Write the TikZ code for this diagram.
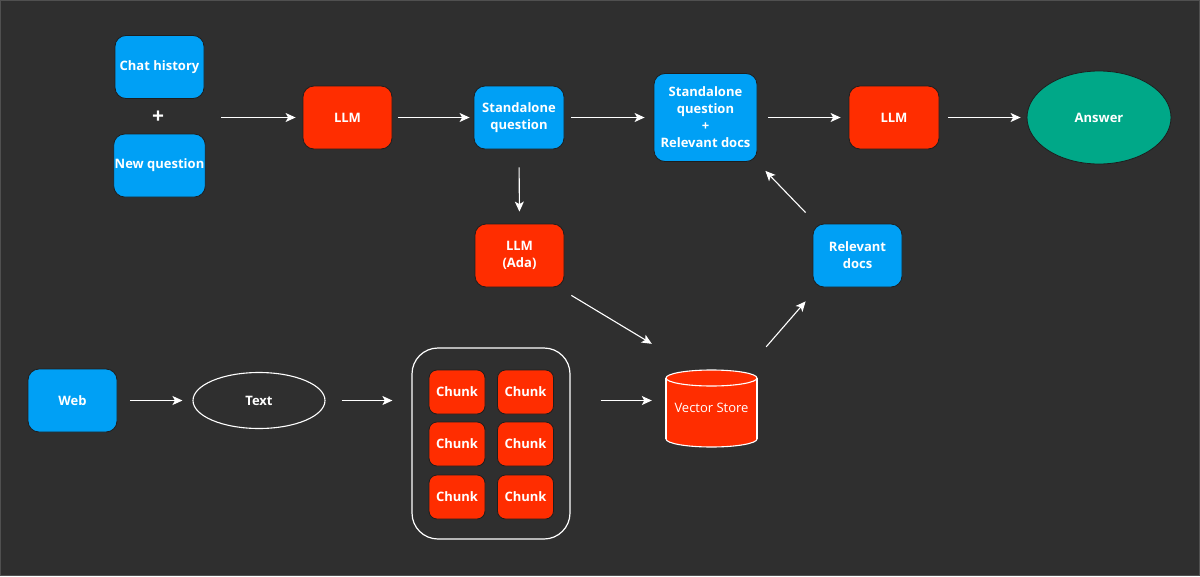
\documentclass[tikz,border=0pt]{standalone}
\usepackage{fontspec}
\setmainfont{Open Sans}
\usetikzlibrary{arrows.meta,calc,shapes.geometric}
\definecolor{bg}{RGB}{47,47,47}
\definecolor{bluebox}{RGB}{0,160,245}
\definecolor{redbox}{RGB}{255,45,0}
\definecolor{tealbox}{RGB}{0,168,136}
\definecolor{edge}{RGB}{30,30,30}
\tikzset{
  box/.style={draw=edge, line width=0.8pt, rounded corners=11pt, minimum width=89pt, minimum height=63pt,
    text=white, font=\fontsize{13}{17}\selectfont\bfseries, align=center, inner sep=1pt},
  bluenode/.style={box, fill=bluebox},
  rednode/.style={box, fill=redbox},
  chunkbox/.style={box, fill=redbox, minimum width=56pt, minimum height=44pt, rounded corners=8pt},
  arr/.style={draw=white, line width=1.1pt, -{Stealth[length=10pt,width=9pt,inset=2.5pt]}},
}
\begin{document}
\begin{tikzpicture}[x=1pt,y=-1pt]
\fill[bg] (0,0) rectangle (1200,576);
\draw[color={rgb,255:red,80;green,80;blue,80}, line width=1pt] (0.5,0.5) rectangle (1199.5,575.5);
\useasboundingbox (0,0) rectangle (1200,576);

% top row
\node[bluenode] (ch) at (159.5,67) {Chat history};
\node[text=white, font=\fontsize{21}{21}\selectfont\bfseries, inner sep=0pt] (plus) at (158,117.5) {+};
\node[bluenode] (nq) at (159.5,165.5) {New question};
\node[rednode] (llm1) at (347.5,117.5) {LLM};
\node[bluenode, minimum width=90pt] (sq) at (519,117.5) {Standalone\\question};
\node[bluenode, minimum width=103pt, minimum height=88pt] (sr) at (705.5,117.5) {Standalone\\question\\+\\Relevant docs};
\node[rednode, minimum width=90pt] (llm2) at (894,117.5) {LLM};
\node[draw=edge, line width=0.8pt, fill=tealbox, ellipse, minimum width=144pt, minimum height=93pt, inner sep=0pt,
  text=white, font=\fontsize{13}{17}\selectfont\bfseries] (ans) at (1099,117.5) {Answer};

% middle
\node[rednode] (ada) at (519.5,255.5) {LLM\\(Ada)};
\node[bluenode] (rd) at (857.5,255.5) {Relevant\\docs};

% bottom row
\node[bluenode] (web) at (72.5,400.5) {Web};
\node[draw=white, line width=1.1pt, fill=bg, ellipse, minimum width=132pt, minimum height=56pt, inner sep=0pt,
  text=white, font=\fontsize{13}{17}\selectfont\bfseries] (txt) at (259,400.5) {Text};
\node[draw=white, line width=1.2pt, rounded corners=26pt, minimum width=158pt, minimum height=191pt] (ct) at (491,443.5) {};
\node[chunkbox] (c1) at (457,392) {Chunk};
\node[chunkbox] (c2) at (525.5,392) {Chunk};
\node[chunkbox] (c3) at (457,444) {Chunk};
\node[chunkbox] (c4) at (525.5,444) {Chunk};
\node[chunkbox] (c5) at (457,497) {Chunk};
\node[chunkbox] (c6) at (525.5,497) {Chunk};

% vector store cylinder
\fill[redbox, draw=white, line width=1.1pt] (711.5,439) ellipse [x radius=45.5, y radius=8];
\fill[redbox] (666,378) rectangle (757,439);
\draw[white, line width=1.1pt] (666,378) -- (666,439) (757,378) -- (757,439);
\fill[redbox, draw=white, line width=1.1pt] (711.5,378) ellipse [x radius=45.5, y radius=8];
\node[minimum width=91pt, minimum height=77pt, inner sep=0pt, text=white, font=\fontsize{13}{17}\selectfont] (vs) at (711.5,407.5) {Vector Store};

% connectors
\draw[arr, shorten <=17pt, shorten >=7pt] (ch.east |- plus) -- (llm1.west);
\draw[arr, shorten <=6pt, shorten >=4pt] (llm1) -- (sq);
\draw[arr, shorten <=7pt, shorten >=9pt] (sq.east) -- (sr.west |- sq.east);
\draw[arr, shorten <=11pt, shorten >=8pt] (sr.east |- llm2.west) -- (llm2.west);
\draw[arr, shorten <=9pt, shorten >=6pt] (llm2.east) -- (ans.west);
\draw[arr, shorten <=18pt, shorten >=12pt] (sq.south) -- (ada.north);
\draw[arr] ($(ada.south east)+(7,8)$) -- ($(vs.north west)+(-14,-25)$);
\draw[arr] ($(vs.north east)+(9,-22)$) -- ($(rd.south west)+(-7,14)$);
\draw[arr] ($(rd.north west)+(-7,-11)$) -- ($(sr.south east)+(8,9)$);
\draw[arr, shorten <=13pt, shorten >=10pt] (web.east) -- (txt.west);
\draw[arr, shorten <=16pt, shorten >=19pt] (txt.east) -- (ct.west |- txt.east);
\draw[arr, shorten <=30pt, shorten >=14pt] (ct.east |- txt.east) -- (vs.west |- txt.east);
\end{tikzpicture}
\end{document}
